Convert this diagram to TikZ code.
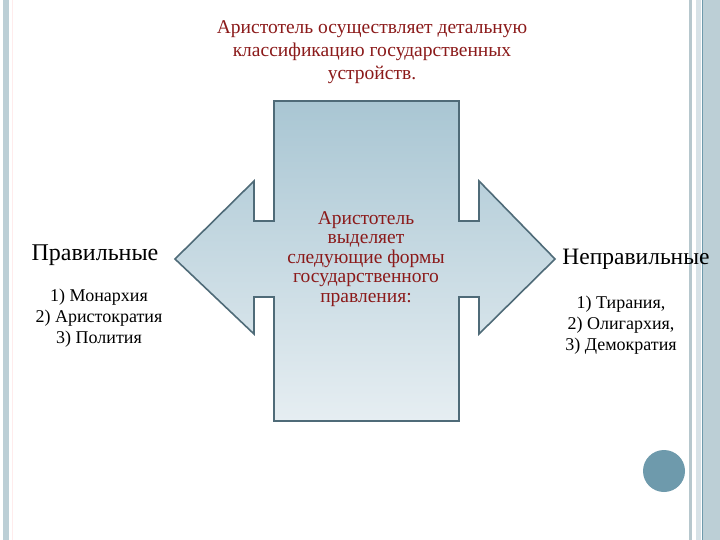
\documentclass[tikz,border=0pt]{standalone}
\usepackage{fontspec}
\setmainfont{Liberation Serif}
\definecolor{dred}{HTML}{8B1A1A}
\definecolor{edge}{HTML}{4F6B78}
\definecolor{ftop}{HTML}{A9C6D3}
\definecolor{fbot}{HTML}{E6EEF2}
\definecolor{stripe}{HTML}{BCCFD6}
\definecolor{dot}{HTML}{6E9AAC}
\begin{document}
\begin{tikzpicture}[x=1pt,y=-1pt,
  lbl/.style={align=center,inner sep=0pt},
  item/.style={lbl,font=\fontsize{18}{21}\selectfont}]
\useasboundingbox (0,0) rectangle (720,540);
\fill[white] (0,0) rectangle (720,540);
% border stripes
\fill[stripe] (3,0) rectangle (9,540);
\fill[pink!30] (12,0) rectangle (13,540);
\fill[stripe!90!gray] (689,0) rectangle (692,540);
\fill[stripe!60] (696,0) rectangle (701,540);
\fill[dot] (701.5,0) rectangle (703,540);
\fill[stripe] (703,0) rectangle (720,540);
% shape
\draw[edge,line width=1.6pt,top color=ftop,bottom color=fbot]
 (274,101) -- (459,101) -- (459,221) -- (479,221) -- (479,181) -- (555,259)
 -- (479,334) -- (479,297) -- (459,297) -- (459,421) -- (274,421) -- (274,297)
 -- (254,297) -- (254,334) -- (175,259) -- (254,181) -- (254,221) -- (274,221) -- cycle;
\node[lbl,text=dred,font=\fontsize{19.5}{23}\selectfont] (title) at (372,52)
 {Аристотель осуществляет детальную\\классификацию государственных\\устройств.};
\node[lbl,text=dred,font=\fontsize{19.5}{19.5}\selectfont] (mid) at (366,259)
 {Аристотель\\выделяет\\следующие формы\\государственного\\правления:};
\node[lbl,font=\fontsize{24}{28}\selectfont] (left) at (95,255) {Правильные};
\node[item] (litems) at (99,318) {1) Монархия\\2) Аристократия\\3) Полития};
\node[lbl,font=\fontsize{23.5}{28}\selectfont] (right) at (636,259) {Неправильные};
\node[item] (ritems) at (621,325) {1) Тирания,\\2) Олигархия,\\3) Демократия};
\fill[dot] (664,471) circle (21);
\end{tikzpicture}
\end{document}
